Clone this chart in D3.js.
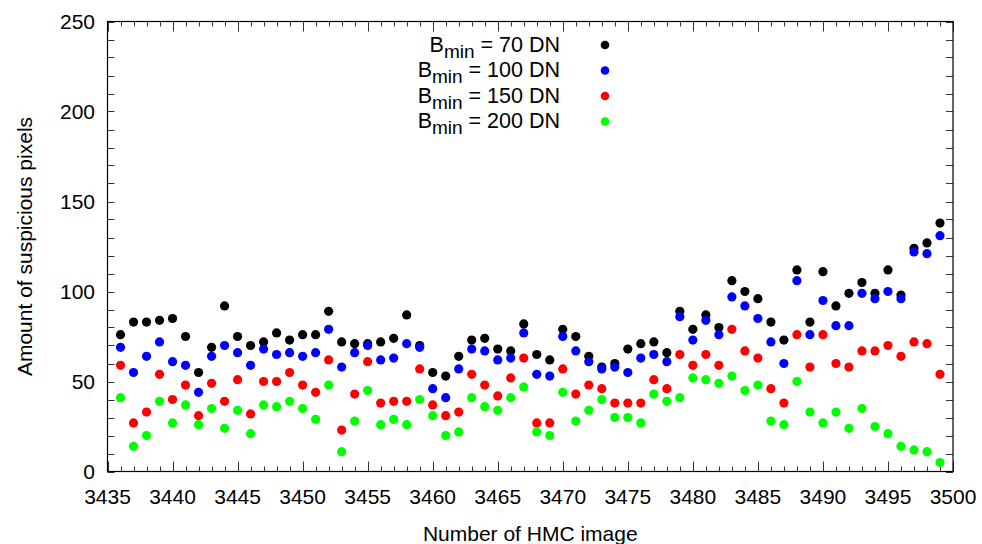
<!DOCTYPE html>
<html><head><meta charset="utf-8">
<script src="https://cdn.jsdelivr.net/npm/d3@7"></script>
<style>
html,body{margin:0;padding:0;background:#fff;}
svg{display:block;font-family:"Liberation Sans",Arial,sans-serif;}
</style></head>
<body><svg id="c" width="982" height="544"></svg>
<script>
const images = d3.range(3436, 3500);
const bmin70 = [76,83,83,84,85,75,55,69,92,75,70,72,77,73,76,76,89,72,71,71,72,74,87,70,55,53,64,73,74,68,67,82,65,62,79,75,64,58,60,68,71,72,66,89,79,87,80,106,100,96,83,73,112,83,111,92,99,105,99,112,98,124,127,138];
const bmin100 = [69,55,64,72,61,59,44,64,70,66,59,68,65,66,64,66,79,58,66,70,62,63,71,69,46,41,57,68,67,62,63,77,54,53,75,67,61,57,58,55,63,65,61,86,73,84,76,97,92,85,72,60,106,76,95,81,81,99,96,100,96,122,121,131];
const bmin150 = [59,27,33,54,40,48,31,49,39,51,32,50,50,55,48,44,62,23,43,61,38,39,39,57,37,31,33,54,48,42,52,63,27,27,57,43,48,46,38,38,38,51,46,65,59,65,59,79,67,63,46,38,76,58,76,60,58,67,67,70,64,72,71,54];
const bmin200 = [41,14,20,39,27,37,26,35,24,34,21,37,36,39,35,29,48,11,28,45,26,29,26,40,31,20,22,41,36,34,41,47,22,20,44,28,34,40,30,30,27,43,39,41,52,51,49,53,45,48,28,26,50,33,27,33,24,35,25,21,14,12,11,5];
const seriesLabels = ["70", "100", "150", "200"];
const seriesColors = ["#000000", "#0000ff", "#ff0000", "#00ff00"];
const xTicks = d3.range(3435, 3501, 5);
const yTicks = [0, 50, 100, 150, 200, 250];

const svg = d3.select("#c");
const L = 107.5, R = 953, T = 21.5, B = 471.5;
const x = d3.scaleLinear().domain([3435, 3500]).range([L, R]);
const y = d3.scaleLinear().domain([0, 250]).range([B, T]);

const g = svg.append("g");
// ticks (inward, mirrored)
const xMinor = d3.range(3435, 3501, 1);
const yMinor = d3.range(0, 251, 10);
const tk = g.append("g").attr("stroke", "#333").attr("stroke-width", 1);
xMinor.forEach(v => {
  const len = v % 5 === 0 ? 10 : 5;
  const px = Math.round(x(v)) + 0.5;
  tk.append("line").attr("x1", px).attr("x2", px).attr("y1", B).attr("y2", B - len);
  tk.append("line").attr("x1", px).attr("x2", px).attr("y1", T).attr("y2", T + len);
});
yMinor.forEach(v => {
  const len = 7;
  const py = Math.round(y(v)) + 0.5;
  tk.append("line").attr("x1", L).attr("x2", L + len).attr("y1", py).attr("y2", py);
  tk.append("line").attr("x1", R).attr("x2", R - len).attr("y1", py).attr("y2", py);
});
// frame
g.append("rect").attr("x", L).attr("y", T).attr("width", R - L).attr("height", B - T)
  .attr("fill", "none").attr("stroke", "#000").attr("stroke-width", 1.2);

// tick labels
g.append("g").selectAll("text").data(xTicks).join("text")
  .attr("x", d => x(d)).attr("y", 504).attr("text-anchor", "middle")
  .attr("font-size", 21).attr("fill", "#000").text(d => d);
g.append("g").selectAll("text").data(yTicks).join("text")
  .attr("x", 95).attr("y", d => y(d) + 7.5).attr("text-anchor", "end")
  .attr("font-size", 21).attr("fill", "#000").text(d => d);

// axis titles
g.append("text").attr("x", (L + R) / 2).attr("y", 541).attr("text-anchor", "middle")
  .attr("font-size", 21).text("Number of HMC image");
g.append("text").attr("transform", `translate(32,${(T + B) / 2}) rotate(-90)`)
  .attr("text-anchor", "middle").attr("font-size", 21).text("Amount of suspicious pixels");

// points
const allSeries = [bmin70, bmin100, bmin150, bmin200];
allSeries.forEach((vals, si) => {
  g.append("g").selectAll("circle").data(vals).join("circle")
    .attr("cx", (d, i) => x(images[i])).attr("cy", d => y(d))
    .attr("r", 4.6).attr("fill", seriesColors[si]);
});

// legend
const legY = [45, 70.5, 96, 121.5];
seriesLabels.forEach((lab, i) => {
  const t = g.append("text").attr("x", 560).attr("y", legY[i] + 6.5)
    .attr("text-anchor", "end").attr("font-size", 21.5).attr("fill", "#000");
  t.append("tspan").text("B");
  t.append("tspan").attr("font-size", 19).attr("dy", 6).text("min");
  t.append("tspan").attr("dy", -6).text(` = ${lab} DN`);
  g.append("circle").attr("cx", 605).attr("cy", legY[i]).attr("r", 4.3).attr("fill", seriesColors[i]);
});
</script></body></html>
